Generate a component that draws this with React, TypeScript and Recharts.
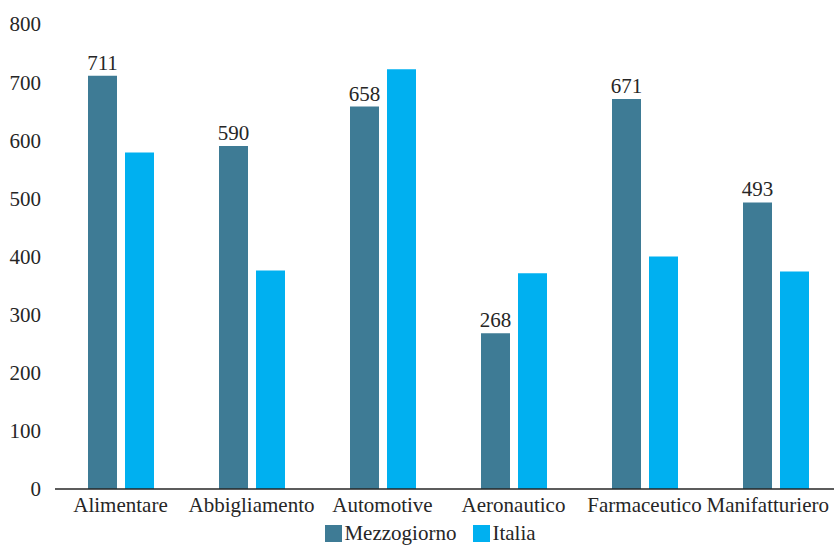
import { BarChart, Bar, XAxis, YAxis, Legend, LabelList } from 'recharts';

const categories = ['Alimentare', 'Abbigliamento', 'Automotive', 'Aeronautico', 'Farmaceutico', 'Manifatturiero'];
const mezzogiorno = [711, 590, 658, 268, 671, 493];
const italia = [579, 376, 722, 371, 400, 374];
const yTicks = [0, 100, 200, 300, 400, 500, 600, 700, 800];

const darkColor = '#3e7b95';
const lightColor = '#00b0f0';
const textColor = '#262626';
const font = 'Liberation Serif, Times New Roman, serif';
const fontSize = 21;
const visibleWidth = 834;

const data = categories.map((name, i) => ({
    name,
    Mezzogiorno: mezzogiorno[i],
    Italia: italia[i],
}));

const series = [
    { key: 'Mezzogiorno', color: darkColor },
    { key: 'Italia', color: lightColor },
];

// the last category label would run past the window, so it is pulled back inside
function CategoryTick(props: any) {
    const { x, y, payload, index } = props;
    const last = index === categories.length - 1;
    return (
        <text
            x={last ? visibleWidth - 5 : x}
            y={y}
            dy="0.71em"
            textAnchor={last ? 'end' : 'middle'}
            fill={textColor}
            fontSize={fontSize}
            fontFamily={font}
        >
            {payload.value}
        </text>
    );
}

function LegendContent() {
    return (
        <div style={{ display: 'flex', justifyContent: 'center', gap: 17, fontFamily: font, fontSize, lineHeight: '20px', color: textColor, paddingLeft: 20 }}>
            {series.map((s) => (
                <div key={s.key} style={{ display: 'flex', alignItems: 'center' }}>
                    <span style={{ display: 'inline-block', width: 17, height: 17, background: s.color, marginRight: 2 }} />
                    <span>{s.key}</span>
                </div>
            ))}
        </div>
    );
}

export default function App() {
    return (
        <div style={{ position: 'absolute', left: 0, top: 0, width: visibleWidth, height: 545, overflow: 'hidden', background: '#fff', fontFamily: font }}>
            <BarChart
                width={850}
                height={560}
                data={data}
                margin={{ top: 24, right: 9, left: 0, bottom: 0 }}
                barGap={8}
                barSize={29}
            >
                <XAxis
                    dataKey="name"
                    tickLine={false}
                    axisLine={{ stroke: '#262626', strokeWidth: 1.5 }}
                    tick={<CategoryTick />}
                    interval={0}
                    height={40}
                />
                <YAxis
                    width={55}
                    domain={[0, 800]}
                    ticks={yTicks}
                    tickLine={false}
                    axisLine={false}
                    tickMargin={8}
                    tick={{ fill: textColor, fontSize, fontFamily: font }}
                />
                <Legend
                    verticalAlign="bottom"
                    height={31}
                    wrapperStyle={{ top: 523, bottom: 'auto' }}
                    content={<LegendContent />}
                />
                <Bar dataKey="Mezzogiorno" fill={darkColor} isAnimationActive={false}>
                    <LabelList
                        dataKey="Mezzogiorno"
                        position="top"
                        offset={6}
                        style={{ fill: textColor, fontSize, fontFamily: font }}
                    />
                </Bar>
                <Bar dataKey="Italia" fill={lightColor} isAnimationActive={false} />
            </BarChart>
        </div>
    );
}
